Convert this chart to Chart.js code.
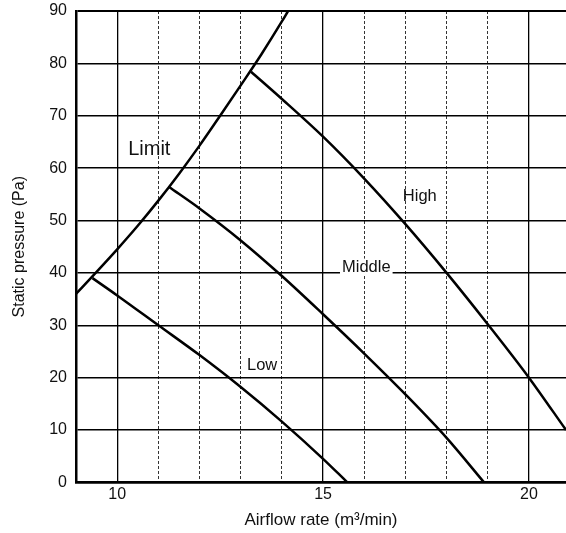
<!DOCTYPE html>
<html>
<head>
<meta charset="utf-8">
<script src="https://cdn.jsdelivr.net/npm/chart.js@4/dist/chart.umd.min.js"></script>
<style>
  html, body { margin: 0; padding: 0; background: #fff; }
  #wrap { width: 566px; height: 533px; }
</style>
</head>
<body>
<div id="wrap"><canvas id="graphic"></canvas></div>
<script>
// curves (airflow m3/min -> static pressure Pa)
const limitX = [9, 9.5, 10, 10.5, 11, 11.5, 12, 12.5, 13, 13.5, 14, 14.15];
const limitY = [36, 40.2, 44.5, 49, 53.8, 58.9, 64.3, 70, 75.8, 81.7, 88, 90];

const highX = [13.25, 14, 15, 16, 17, 18, 19, 20, 20.9];
const highY = [78.4, 73.2, 66, 58, 49.3, 40, 30.2, 20, 10];

const middleX = [11.26, 12, 13, 14, 15, 16, 17, 18, 18.91];
const middleY = [56.4, 52.3, 46.2, 39.4, 32.1, 24.6, 16.8, 8.5, 0];

const lowX = [9.4, 10, 11, 12, 13, 14, 15, 15.59];
const lowY = [39, 35.7, 30, 24.3, 18.2, 11.6, 4.5, 0];

const xLabels = [10, 15, 20];
const curveNames = ['Limit', 'High', 'Middle', 'Low'];

const toPoints = (xs, ys) => xs.map((x, i) => ({x: x, y: ys[i]}));

const FONT = "'Liberation Sans', Arial, sans-serif";

// text labels next to the curves
const curveLabels = {
    id: 'curveLabels',
    afterDatasetsDraw(chart) {
        const {ctx, scales: {x, y}} = chart;
        const spots = [
            {x: 10.78, y: 62.5, size: 20},
            {x: 17.35, y: 53.8, size: 16.5},
            {x: 16.05, y: 40.2, size: 16.5, box: true},
            {x: 13.52, y: 21.4, size: 16.5}
        ];
        ctx.save();
        ctx.textAlign = 'center';
        ctx.textBaseline = 'alphabetic';
        curveNames.forEach((name, i) => {
            const s = spots[i];
            const px = x.getPixelForValue(s.x);
            const py = y.getPixelForValue(s.y);
            ctx.font = s.size + 'px ' + FONT;
            if (s.box) {
                const w = ctx.measureText(name).width;
                ctx.fillStyle = '#fff';
                ctx.fillRect(px - w / 2 - 2, py - s.size * 0.8, w + 4, s.size * 0.8 + 4);
            }
            ctx.fillStyle = '#111';
            ctx.fillText(name, px, py);
        });
        ctx.restore();
    }
};

const lineStyle = {
    showLine: true,
    borderColor: '#000',
    backgroundColor: '#000',
    borderWidth: 2.5,
    pointRadius: 0,
    cubicInterpolationMode: 'monotone'
};

const chartElement = document.getElementById('graphic');
const newChart = new Chart(chartElement, {
    type: 'scatter',
    data: {
        datasets: [
            {label: 'Limit', data: toPoints(limitX, limitY), ...lineStyle},
            {label: 'High', data: toPoints(highX, highY), ...lineStyle},
            {label: 'Middle', data: toPoints(middleX, middleY), ...lineStyle},
            {label: 'Low', data: toPoints(lowX, lowY), ...lineStyle}
        ]
    },
    options: {
        responsive: true,
        maintainAspectRatio: false,
        animation: false,
        layout: {padding: {left: 4, right: 0, top: 0, bottom: 0}},
        plugins: {
            legend: {display: false},
            tooltip: {enabled: false}
        },
        scales: {
            x: {
                type: 'linear',
                min: 9,
                max: 20.9,
                afterFit: (s) => { s.paddingRight = 0; },
                ticks: {
                    stepSize: 1,
                    includeBounds: false,
                    autoSkip: false,
                    maxRotation: 0,
                    padding: 3,
                    color: '#111',
                    font: {family: FONT, size: 16},
                    callback: (v) => xLabels.includes(v) ? String(v) : ''
                },
                grid: {
                    drawTicks: false,
                    color: (c) => {
                        if (!c.tick) return '#000';
                        const v = c.tick.value;
                        if (v === 9 || !Number.isInteger(v)) return 'rgba(0,0,0,0)';
                        return v % 5 === 0 ? '#000' : '#333';
                    },
                    lineWidth: (c) => (c.tick && c.tick.value % 5 === 0) ? 1.3 : 1
                },
                border: {
                    color: '#000',
                    width: 2.5,
                    dash: (c) => (c.tick && c.tick.value % 5 !== 0) ? [3, 2] : []
                },
                title: {
                    display: true,
                    text: 'Airflow rate (m³/min)',
                    color: '#111',
                    font: {family: FONT, size: 17},
                    padding: {top: 3, bottom: 2}
                }
            },
            y: {
                min: 0,
                max: 90,
                afterFit: (s) => { s.paddingTop = 11; },
                ticks: {
                    stepSize: 10,
                    padding: 9,
                    color: '#111',
                    font: {family: FONT, size: 16}
                },
                grid: {
                    drawTicks: false,
                    color: '#000',
                    lineWidth: (c) => (c.tick && c.tick.value === 90) ? 2 : 1.4
                },
                border: {color: '#000', width: 2.5},
                title: {
                    display: true,
                    text: 'Static pressure (Pa)',
                    color: '#111',
                    font: {family: FONT, size: 16},
                    padding: {top: 6, bottom: 11}
                }
            }
        }
    },
    plugins: [curveLabels]
});
</script>
</body>
</html>
